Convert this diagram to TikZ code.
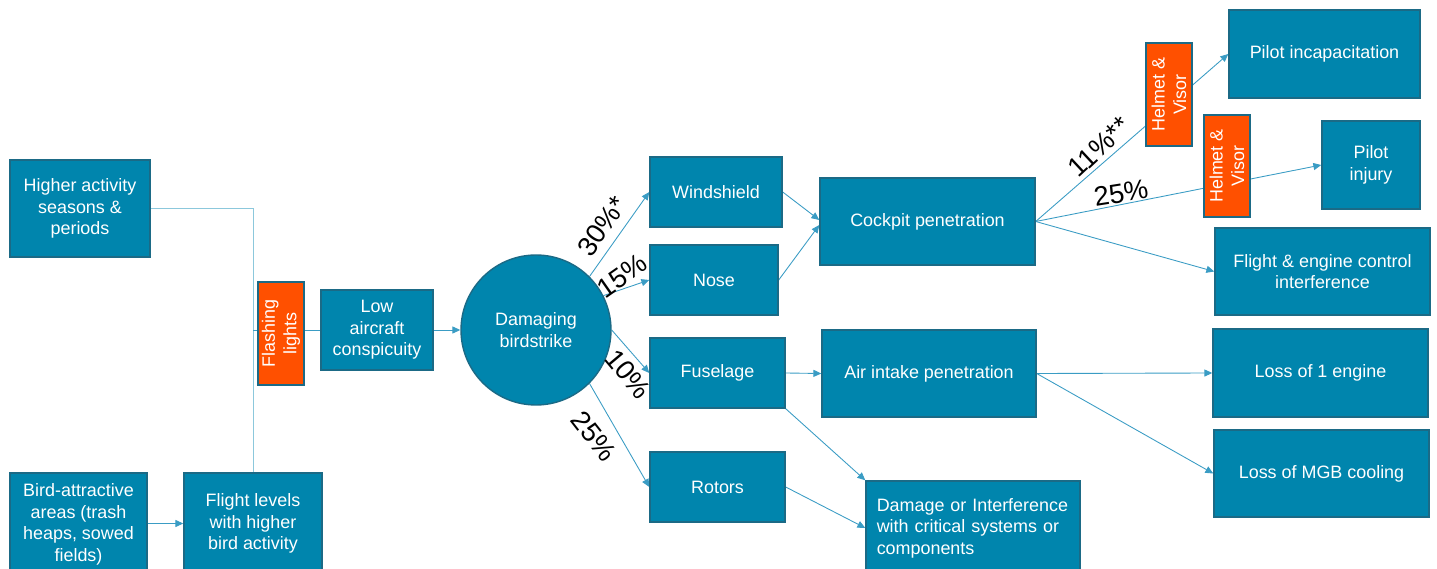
\documentclass[tikz,border=0pt]{standalone}
\usepackage{fontspec}
\setmainfont{Liberation Sans}
\usetikzlibrary{arrows.meta,shapes,backgrounds}
\definecolor{boxteal}{HTML}{0085AD}
\definecolor{boxline}{HTML}{1B6A86}
\definecolor{guardfill}{HTML}{FF5000}
\definecolor{linkcol}{HTML}{3A9CC4}
\definecolor{linklight}{HTML}{8CC8DC}
\tikzset{box/.style={draw=boxline, fill=boxteal, text=white, align=center, inner sep=2pt,
                     line width=0.8pt, font=\fontsize{10.2}{12.3}\selectfont},
         guard/.style={draw=boxline, fill=guardfill, text=white, align=center, rotate=90,
                     minimum width=2.06cm, minimum height=0.92cm, inner sep=1pt,
                     line width=0.8pt, font=\fontsize{10.2}{12.3}\selectfont},
         link/.style={draw=linkcol, line width=0.5pt, -{Triangle[length=4.5pt,width=4pt]}},
         pct/.style={font=\fontsize{15.5}{17}\selectfont, inner sep=0pt}}

\begin{document}
\begin{tikzpicture}
    \useasboundingbox (0,0) rectangle (28.74,-11.38);

    % causes
    \node[box, minimum width=2.8cm, minimum height=1.94cm] (hiact) at (1.6,-4.17) {Higher activity\\seasons \&\\periods};
    \node[box, minimum width=2.74cm, minimum height=2.06cm] (birdarea) at (1.57,-10.49) {Bird-attractive\\areas (trash\\heaps, sowed\\fields)};
    \node[box, minimum width=2.76cm, minimum height=2.02cm] (flevel) at (5.06,-10.47) {Flight levels\\with higher\\bird activity};
    \node[guard] (flash) at (5.62,-6.67) {Flashing\\lights};
    \node[box, minimum width=2.24cm, minimum height=1.6cm] (lowcon) at (7.54,-6.6) {Low\\aircraft\\conspicuity};

    % event
    \node[box, circle, minimum size=3cm] (strike) at (10.72,-6.6) {Damaging\\birdstrike};

    % impact zones
    \node[box, minimum width=2.64cm, minimum height=1.4cm] (wind) at (14.32,-3.84) {Windshield};
    \node[box, minimum width=2.56cm, minimum height=1.4cm] (nose) at (14.28,-5.6) {Nose};
    \node[box, minimum width=2.7cm, minimum height=1.4cm] (fuse) at (14.35,-7.46) {Fuselage};
    \node[box, minimum width=2.7cm, minimum height=1.4cm] (rotor) at (14.35,-9.74) {Rotors};

    % effects
    \node[box, minimum width=4.3cm, minimum height=1.74cm] (cockpit) at (18.55,-4.43) {Cockpit penetration};
    \node[box, minimum width=4.28cm, minimum height=1.74cm] (intake) at (18.58,-7.47) {Air intake penetration};
    \node[box, align=left, text width=3.85cm, inner xsep=0.215cm, minimum height=1.88cm] (damage) at (19.46,-10.56) {Damage or Interference\\with critical systems or\\components};

    % outcomes
    \node[box, minimum width=3.82cm, minimum height=1.76cm] (pinc) at (26.49,-1.08) {Pilot incapacitation};
    \node[box, minimum width=1.96cm, minimum height=1.76cm] (pinj) at (27.42,-3.3) {Pilot\\injury};
    \node[box, minimum width=4.3cm, minimum height=1.74cm] (fectl) at (26.45,-5.43) {Flight \& engine control\\interference};
    \node[box, minimum width=4.3cm, minimum height=1.76cm] (loss1) at (26.41,-7.46) {Loss of 1 engine};
    \node[box, minimum width=4.3cm, minimum height=1.74cm] (mgb) at (26.43,-9.47) {Loss of MGB cooling};

    \node[guard] (helm1) at (23.38,-1.89) {Helmet \&\\Visor};
    \node[guard, minimum width=2.04cm] (helm2) at (24.54,-3.32) {Helmet \&\\Visor};

    % shares
    \node[pct, rotate=55] (l30) at (12.04,-4.52) {30\%*};
    \node[pct, rotate=35] (l15) at (12.44,-5.52) {15\%};
    \node[pct, rotate=-50] (l10) at (12.56,-7.48) {10\%};
    \node[pct, rotate=-52] (l25a) at (11.88,-8.72) {25\%};
    \node[pct, rotate=43] (l11) at (21.98,-2.94) {11\%**};
    \node[pct, rotate=9] (l25b) at (22.42,-3.86) {25\%};

    \begin{scope}[on background layer]
        \draw[link, draw=linklight, -] (hiact.east) -| (flevel.north);
        \draw[link, -] (flevel.north |- lowcon.west) -- (lowcon.west);
        \draw[link] (birdarea.east |- flevel.west) -- (flevel.west);
        \draw[link] (lowcon.east) -- (strike.west);

        \draw[link] (strike.45) -- (wind.west);
        \draw[link] (strike.27) -- (nose.west);
        \draw[link] (strike.east) -- (fuse.west);
        \draw[link] (strike.-45) -- (rotor.west);

        \draw[link] (wind.east) -- ([yshift=0.03cm]cockpit.west);
        \draw[link] (nose.east) -- ([yshift=-0.07cm]cockpit.west);
        \draw[link] (fuse.east) -- (intake.west);
        \draw[link] (fuse.south east) -- (damage.north west);
        \draw[link] (rotor.east) -- (damage.west);

        \draw[link] (cockpit.east) -- (pinc.west);
        \draw[link] (cockpit.east) -- (pinj.west);
        \draw[link] (cockpit.east) -- (fectl.west);
        \draw[link] (intake.east) -- (loss1.west);
        \draw[link] (intake.east) -- (mgb.west);
    \end{scope}
\end{tikzpicture}
\end{document}
